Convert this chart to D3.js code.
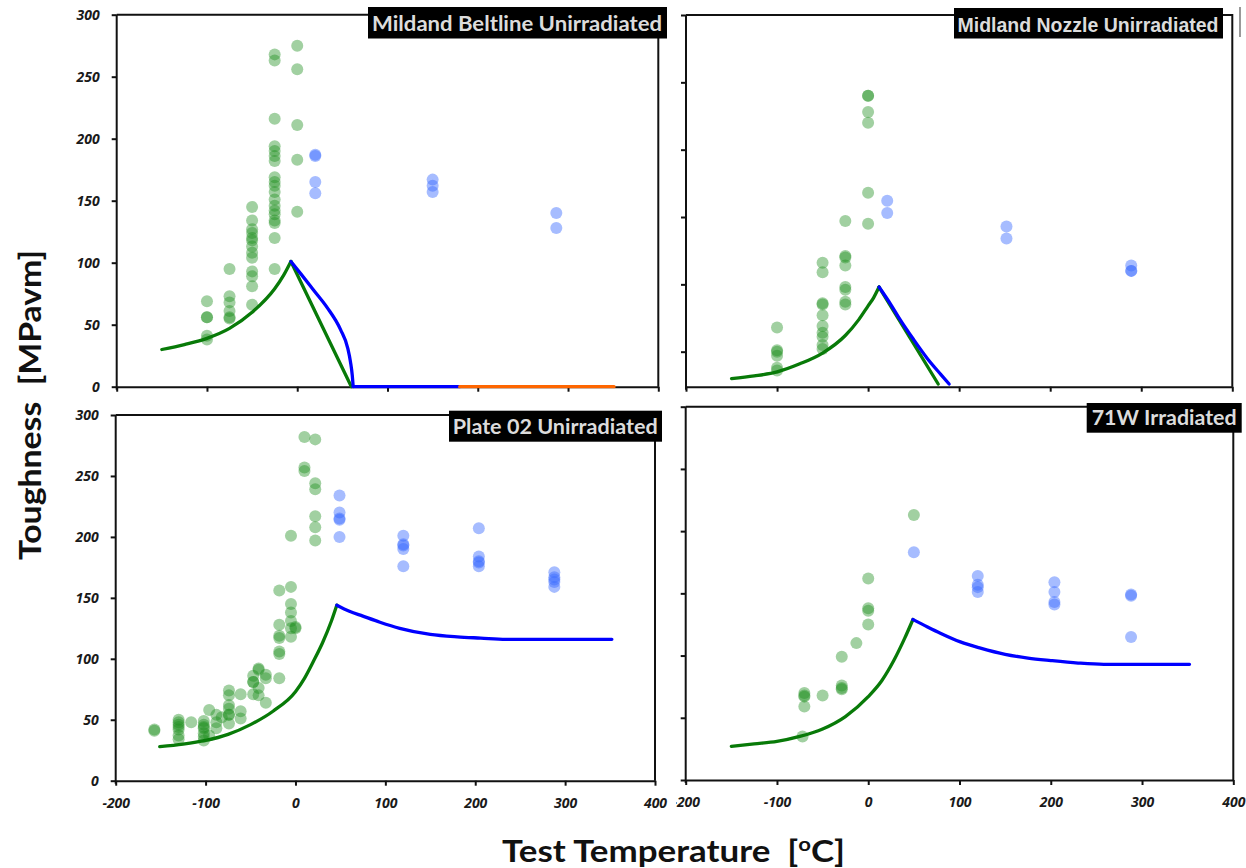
<!DOCTYPE html>
<html><head><meta charset="utf-8">
<script src="https://cdn.jsdelivr.net/npm/d3@7"></script>
<style>body{margin:0;background:#fff}svg{display:block}</style>
</head><body>
<svg id="c" width="1246" height="868"></svg>
<script>
// ---------------- DATA ----------------
const xTicks = [-200, -100, 0, 100, 200, 300, 400];
const yTicks = [0, 50, 100, 150, 200, 250, 300];
const yTicksCut = [50, 100, 150, 200, 250, 300];

const titles = ["Mildand Beltline Unirradiated", "Midland Nozzle Unirradiated", "Plate 02 Unirradiated", "71W Irradiated"];
const xTitle = "Test Temperature  [";
const xTitleSup = "o";
const xTitleEnd = "C]";
const yTitle = "Toughness  [MPavm]";

// Panel 1: Mildand Beltline Unirradiated  [T (°C), K (MPa√m)]
const beltGreen = [
  [-100,69],[-100,56],[-100,56],[-100,41],[-100,38],
  [-75,95],[-75,73],[-75,68],[-75,61],[-75,56],[-75,55],
  [-50,145],[-50,134],[-50,127],[-50,124],[-50,120],[-50,118],[-50,113],[-50,108],[-50,104],[-50,93],[-50,89],[-50,81],[-50,66],
  [-25,268],[-25,263],[-25,216],[-25,194],[-25,190],[-25,186],[-25,182],[-25,169],[-25,165],[-25,162],[-25,157],[-25,151],[-25,146],[-25,142],[-25,139],[-25,134],[-25,132],[-25,120],[-25,95],
  [0,275],[0,256],[0,211],[0,183],[0,141]
];
const beltBlue = [[20,187],[20,186],[20,165],[20,156],[150,167],[150,162],[150,157],[287,140],[287,128]];
const beltGreenCurve = [[-150,30],[-125,34],[-100,39],[-75,47],[-50,60],[-25,79],[-15,90],[-7,101]];
const beltGreenDrop = [[-7,101],[60,0]];
const beltBlueCurve = [[-7,101],[4,91],[18,78],[33,64],[48,46],[56,31],[59,20],[61,9],[62,0]];
const beltBlueFlat = [[62,0],[180,0]];
const beltOrange = [[180,0],[351,0]];

// Panel 2: Midland Nozzle Unirradiated
const nozGreen = [
  [-100,68],[-100,51],[-100,50],[-100,47],[-100,38],[-100,36],
  [-50,116],[-50,109],[-50,86],[-50,85],[-50,77],[-50,69],[-50,64],[-50,61],[-50,55],[-50,52],
  [-25,147],[-25,121],[-25,120],[-25,114],[-25,98],[-25,96],[-25,87],[-25,85],
  [0,240],[0,240],[0,228],[0,220],[0,168],[0,145]
];
const nozBlue = [[21,162],[21,153],[152,143],[152,134],[289,114],[289,110],[289,110]];
const nozGreenCurve = [[-150,30],[-125,32],[-100,35],[-75,41],[-50,49],[-25,62],[-10,74],[0,84],[6,90],[12,98]];
const nozGreenDrop = [[12,98],[77,26]];
const nozBlueCurve = [[12,98],[25,85],[35,74],[50,59],[65,45],[80,33],[89,26]];

// Panel 3: Plate 02 Unirradiated
const plateGreen = [
  [-157,42],[-157,41],
  [-130,50],[-130,48],[-130,46],[-130,44],[-130,42],[-130,37],[-130,34],
  [-116,48],
  [-102,49],[-102,46],[-102,44],[-102,43],[-102,39],[-102,36],[-102,33],
  [-96,58],[-96,37],[-88,54],[-88,48],[-88,43],[-82,52],
  [-74,74],[-74,70],[-74,62],[-74,59],[-74,54],[-74,54],[-74,47],
  [-61,71],[-61,57],[-61,51],
  [-47,86],[-47,81],[-47,81],[-47,71],
  [-41,92],[-41,91],[-41,76],[-41,70],
  [-33,87],[-33,84],[-33,64],
  [-18,156],[-18,128],[-18,119],[-18,117],[-18,106],[-18,104],[-18,84],
  [-5,201],[-5,159],[-5,145],[-5,138],[-5,131],[-5,125],[-5,118],
  [0,126],[0,125],
  [10,282],[10,257],[10,254],
  [22,280],[22,244],[22,239],[22,217],[22,208],[22,197]
];
const plateBlue = [
  [49,234],[49,220],[49,215],[49,214],[49,200],
  [120,201],[120,194],[120,193],[120,190],[120,176],
  [204,207],[204,184],[204,180],[204,179],[204,176],
  [288,171],[288,167],[288,165],[288,163],[288,159]
];
const plateGreenCurve = [[-151,28],[-125,30],[-100,33],[-75,38],[-50,46],[-25,57],[0,73],[10,84],[20,98],[30,113],[40,131],[46,144]];
const plateBlueCurve = [[46,144],[60,139],[75,135],[94,130],[116,125],[150,120],[180,118],[206,117],[234,116],[352,116]];

// Panel 4: 71W Irradiated
const w71Green = [
  [-70,70],[-70,68],[-70,67],[-70,59],[-72,35],[-50,68],
  [-29,99],[-29,76],[-29,74],[-29,73],[-13,110],
  [0,162],[0,138],[0,136],[0,125],[50,213]
];
const w71Blue = [
  [50,183],[120,164],[120,157],[120,155],[120,151],
  [204,159],[204,151],[204,143],[204,141],
  [288,149],[288,148],[288,115]
];
const w71GreenCurve = [[-150,27],[-125,29],[-100,31],[-75,35],[-50,41],[-25,51],[0,67],[15,80],[28,96],[40,114],[49,129]];
const w71BlueCurve = [[49,129],[65,123],[79,118],[101,111],[123,106],[150,101],[175,98],[200,96],[230,94],[258,93],[352,93]];

// ---------------- LAYOUT ----------------
const svg = d3.select("#c");
const GREEN = "#087a08", BLUE = "#0000ff", ORANGE = "#ff6600";
const tickFont = "'Open Sans', 'Liberation Sans', sans-serif";

const panels = [
  {xr:[116.7,658.3], yr:[386.7,14.7], yd:[0,300], yt:yTicks, xLab:false, yLab:true,
   green:beltGreen, blue:beltBlue,
   lines:[[beltGreenCurve,GREEN,true],[beltGreenDrop,GREEN,false],[beltBlueCurve,BLUE,true],[beltBlueFlat,BLUE,false],[beltOrange,ORANGE,false]],
   title:titles[0], box:[368,7,299,31.5], tx:372, ty:31, tl:290, tf:"Lato, 'Open Sans', sans-serif", ts:21},
  {xr:[686,1232.3], yr:[386.7,15], yd:[24,300], yt:yTicksCut, xLab:false, yLab:false,
   green:nozGreen, blue:nozBlue,
   lines:[[nozGreenCurve,GREEN,true],[nozGreenDrop,GREEN,false],[nozBlueCurve,BLUE,true]],
   title:titles[1], box:[954,8,269,30.5], tx:957.5, ty:31.5, tl:261, tf:"'Liberation Sans Narrow', 'Liberation Sans', Arial, sans-serif", ts:21},
  {xr:[115.7,655], yr:[780.7,415], yd:[0,300], yt:yTicks, xLab:true, yLab:true,
   green:plateGreen, blue:plateBlue,
   lines:[[plateGreenCurve,GREEN,true],[plateBlueCurve,BLUE,true]],
   title:titles[2], box:[449,410.7,213,31], tx:452.7, ty:434, tl:205, tf:"Lato, 'Open Sans', sans-serif", ts:20},
  {xr:[685.7,1233.3], yr:[780,406.7], yd:[0,300], yt:yTicks, xLab:true, yLab:false,
   green:w71Green, blue:w71Blue,
   lines:[[w71GreenCurve,GREEN,true],[w71BlueCurve,BLUE,true]],
   title:titles[3], box:[1086.7,403,155,29.7], tx:1091.7, ty:425, tl:145, tf:"Lato, 'Open Sans', sans-serif", ts:20, clipMinus:676}
];

const defs = svg.append("defs");

panels.forEach((p, i) => {
  const x = d3.scaleLinear().domain([-200, 400]).range(p.xr);
  const y = d3.scaleLinear().domain(p.yd).range(p.yr);
  const g = svg.append("g");

  defs.append("clipPath").attr("id", "clip" + i).append("rect")
    .attr("x", p.xr[0]).attr("y", p.yr[1] - 2).attr("width", p.xr[1] - p.xr[0]).attr("height", p.yr[0] - p.yr[1] + 4);

  // frame (top + right)
  g.append("path")
    .attr("d", `M${p.xr[0]},${p.yr[1]}H${p.xr[1]}V${p.yr[0]}`)
    .attr("fill", "none").attr("stroke", "#111").attr("stroke-width", 2);

  const xa = d3.axisBottom(x).tickValues(xTicks).tickSize(5).tickSizeOuter(0).tickPadding(12)
    .tickFormat(p.xLab ? (d => String(d)) : "");
  const gx = g.append("g").attr("transform", `translate(0,${p.yr[0]})`).call(xa);
  const ya = d3.axisLeft(y).tickValues(p.yt).tickSize(5).tickSizeOuter(0).tickPadding(12)
    .tickFormat(p.yLab ? (d => String(d)) : "");
  const gy = g.append("g").attr("transform", `translate(${p.xr[0]},0)`).call(ya);
  gy.select(".domain").attr("d", `M0,${p.yr[1]}V${p.yr[0] + 3}`);

  [gx, gy].forEach(a => {
    a.selectAll(".domain, .tick line").attr("stroke", "#111").attr("stroke-width", 2);
    a.selectAll("text").attr("font-family", tickFont).attr("font-weight", "bold")
      .attr("font-style", "italic").attr("font-size", 14).attr("fill", "#1a1a1a");
  });
  if (p.clipMinus) {
    // the left part of the first label is cut off in the reference
    defs.append("clipPath").attr("id", "cm" + i).append("rect")
      .attr("x", p.clipMinus).attr("y", -10).attr("width", 700).attr("height", 60);
    gx.attr("clip-path", `url(#cm${i})`);
  }

  const pts = g.append("g").attr("clip-path", `url(#clip${i})`);
  pts.selectAll("circle.g").data(p.green).join("circle").attr("class", "g")
    .attr("cx", d => x(d[0])).attr("cy", d => y(d[1])).attr("r", 6)
    .attr("fill", "#1f8f1f").attr("fill-opacity", 0.42);
  pts.selectAll("circle.b").data(p.blue).join("circle").attr("class", "b")
    .attr("cx", d => x(d[0])).attr("cy", d => y(d[1])).attr("r", 6)
    .attr("fill", "#3a6bff").attr("fill-opacity", 0.45);

  const lg = g.append("g").attr("clip-path", `url(#clip${i})`);
  p.lines.forEach(([data, col, smooth]) => {
    const line = d3.line().x(d => x(d[0])).y(d => y(d[1]))
      .curve(smooth ? d3.curveMonotoneX : d3.curveLinear);
    lg.append("path").attr("d", line(data)).attr("fill", "none")
      .attr("stroke", col).attr("stroke-width", 3.3).attr("stroke-linecap", "round").attr("stroke-linejoin", "round");
  });

  g.append("rect").attr("x", p.box[0]).attr("y", p.box[1]).attr("width", p.box[2]).attr("height", p.box[3]).attr("fill", "#000");
  g.append("text").attr("x", p.tx).attr("y", p.ty).text(p.title)
    .attr("font-family", p.tf).attr("font-weight", "bold").attr("font-size", p.ts)
    .attr("fill", "#dcdcdc").attr("textLength", p.tl).attr("lengthAdjust", "spacingAndGlyphs");
});

svg.append("line").attr("x1", 1240).attr("x2", 1240).attr("y1", 7).attr("y2", 37)
  .attr("stroke", "#777").attr("stroke-width", 1.5);

svg.append("text")
  .attr("transform", "translate(41,405) rotate(-90)")
  .attr("text-anchor", "middle").style("white-space", "pre")
  .attr("font-family", "Lato, 'Open Sans', sans-serif").attr("font-weight", "bold")
  .attr("font-size", 31).attr("fill", "#111")
  .attr("textLength", 310).attr("lengthAdjust", "spacingAndGlyphs")
  .text(yTitle);

const xt = svg.append("text")
  .attr("x", 502).attr("y", 862).style("white-space", "pre")
  .attr("font-family", "Lato, 'Open Sans', sans-serif").attr("font-weight", "bold")
  .attr("font-size", 30).attr("fill", "#111")
  .attr("textLength", 343).attr("lengthAdjust", "spacingAndGlyphs");
xt.append("tspan").text(xTitle);
xt.append("tspan").text(xTitleSup).attr("font-size", 19).attr("dy", -11);
xt.append("tspan").text(xTitleEnd).attr("dy", 11);
</script>
</body></html>
